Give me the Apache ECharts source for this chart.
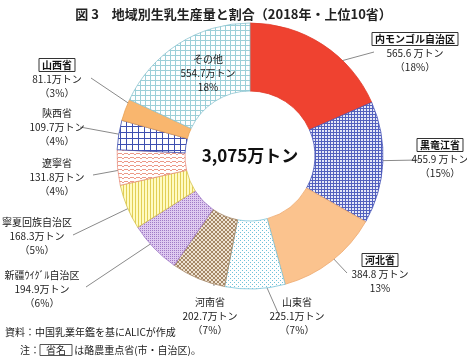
<!DOCTYPE html>
<html><head><meta charset="utf-8">
<script src="https://cdn.jsdelivr.net/npm/echarts@6/dist/echarts.min.js"></script>
<style>html,body{margin:0;padding:0;background:#fff}#c{width:467px;height:360px}</style>
</head><body><div id="c"></div>
<script>
// ---- data ----
const titleText = '図 3　地域別生乳生産量と割合（2018年・上位10省）';
const names = ['内モンゴル自治区','黒竜江省','河北省','山東省','河南省','新疆ｳｲｸﾞﾙ自治区','寧夏回族自治区','遼寧省','陝西省','山西省','その他'];
const values = [565.6,455.9,384.8,225.1,202.7,194.9,168.3,131.8,109.7,81.1,554.7];
const percentTexts = ['（18%）','（15%）','13%','（7%）','（7%）','（6%）','（5%）','（4%）','（4%）','（3%）','18%'];
const keyProvinces = ['内モンゴル自治区','黒竜江省','河北省','山西省'];
const unit = '万トン';
const sourceNote = '資料：中国乳業年鑑を基にALICが作成';
const noteText = ['注：', '省名', ' は酪農重点省(市・自治区)。'];

// ---- styles ----
function pat(w, h, bg, draw) {
  const c = document.createElement('canvas'); c.width = w; c.height = h;
  const g = c.getContext('2d'); g.fillStyle = bg; g.fillRect(0, 0, w, h); draw(g);
  return { image: c, repeat: 'repeat' };
}
const fills = [
  '#ef4230',
  pat(3,3,'#e6e8f7',g=>{g.fillStyle='#5361be';g.fillRect(0,0,3,1);g.fillRect(0,0,1,3);}),
  '#fbc38e',
  pat(4,4,'#ffffff',g=>{g.fillStyle='#6fc2da';g.fillRect(0,0,1,1);g.fillRect(2,2,1,1);}),
  pat(4,4,'#eee3d3',g=>{g.fillStyle='#a58766';for(let i=0;i<4;i++){g.fillRect(i,i,1,1);g.fillRect(i,3-i,1,1);}}),
  pat(2,2,'#dfcaf0',g=>{g.fillStyle='#a07ac6';g.fillRect(0,0,1,1);}),
  pat(3,3,'#fffbc2',g=>{g.fillStyle='#e2cf55';g.fillRect(0,0,1,3);}),
  pat(6,4,'#ffffff',g=>{g.fillStyle='#ec9a88';g.fillRect(0,1,2,1);g.fillRect(2,2,2,1);g.fillRect(4,1,2,1);}),
  pat(6,6,'#ffffff',g=>{g.fillStyle='#3e4fb0';g.fillRect(0,0,6,1);g.fillRect(0,0,1,6);}),
  '#f9b66e',
  pat(5,5,'#ffffff',g=>{g.fillStyle='#9ccfd8';g.fillRect(0,0,5,1);g.fillRect(0,0,1,5);})
];
const borders = ['#e03a28','#4654b8','#eeaa70','#7cc4d8','#a58766','#a07ac6','#d6c24a','#e89080','#3e4fb0','#e8a050','#8cc4d0'];

// label layout (center of label block, leader line end)
const CX = 250, CY = 156, R0 = 65, R1 = 133, RA = 102;
const labelPos = [
  [415,53,[374,52]],[440,159,[419,160]],[380,274,[347,273]],[297,316,[279,315]],[210,316,[214,286]],
  [42,289,[86,287]],[37,236,[73,235]],[57,177,[93,175]],[57,127,[80,127]],[57,79,[91,78]],[208,73,null]
];

const total = values.reduce((a,b)=>a+b,0);
const cum = []; { let s = 0; values.forEach(v => { cum.push(s + v/2); s += v; }); }

const chart = echarts.init(document.getElementById('c'), null, {renderer:'canvas'});
const font = '"Noto Sans CJK JP", sans-serif';
chart.setOption({
  animation: false,
  title: { text: titleText, left: 'center', top: 3,
    textStyle: { fontFamily: font, fontSize: 13, fontWeight: 'bold', color: '#222' } },
  series: [{
    type: 'pie', center: [CX, CY], radius: [R0, R1], startAngle: 90, clockwise: true,
    avoidLabelOverlap: false,
    data: names.map((n, i) => ({
      name: n, value: values[i],
      itemStyle: { color: fills[i], borderColor: borders[i], borderWidth: 0.8 },
      labelLine: { show: i !== names.length - 1 }
    })),
    label: {
      show: true, position: 'outside', fontFamily: font, fontSize: 10, color: '#222', lineHeight: 14,
      align: 'center',
      formatter: p => {
        const i = p.dataIndex;
        const head = keyProvinces.includes(p.name) ? '{box|' + p.name + '}' : '{n|' + p.name + '}';
        const vt = values[i] + (i < 3 ? ' ' : '') + unit;
        return head + '\n{v|' + vt + '}\n{v|' + percentTexts[i] + '}';
      },
      rich: {
        box: { fontFamily: font, fontSize: 10, fontWeight: 'bold', color: '#111', borderColor: '#333', borderWidth: 1, padding: [2,3,1,3], lineHeight: 15 },
        n: { fontFamily: font, fontSize: 10, color: '#222', lineHeight: 14 },
        v: { fontFamily: font, fontSize: 10, color: '#222', lineHeight: 14 }
      }
    },
    labelLine: { show: true, lineStyle: { color: '#8a8a8a', width: 1 } },
    labelLayout: p => {
      const i = p.dataIndex, L = labelPos[i];
      const th = Math.PI/2 - 2*Math.PI*cum[i]/total;
      const a = [CX + RA*Math.cos(th), CY - RA*Math.sin(th)];
      const o = { x: L[0], y: L[1], align: 'center', verticalAlign: 'middle' };
      if (L[2]) o.labelLinePoints = [a, L[2], L[2]];
      return o;
    }
  }],
  graphic: [
    { type: 'text', x: CX, y: CY, style: { text: Math.round(total).toLocaleString('en-US') + unit, fontFamily: font, fontSize: 17, fontWeight: 'bold', fill: '#111', align: 'center', verticalAlign: 'middle' } },
    { type: 'text', left: 5, top: 327, style: { text: sourceNote, fontFamily: font, fontSize: 10, fill: '#222' } },
    { type: 'text', left: 20, top: 344, style: {
      text: noteText[0] + '{b|' + noteText[1] + '}' + noteText[2], fontFamily: font, fontSize: 10, fill: '#222',
      rich: { b: { fontFamily: font, fontSize: 10, borderColor: '#555', borderWidth: 1, padding: [1,6,0,6] } } } }
  ]
});
</script></body></html>
